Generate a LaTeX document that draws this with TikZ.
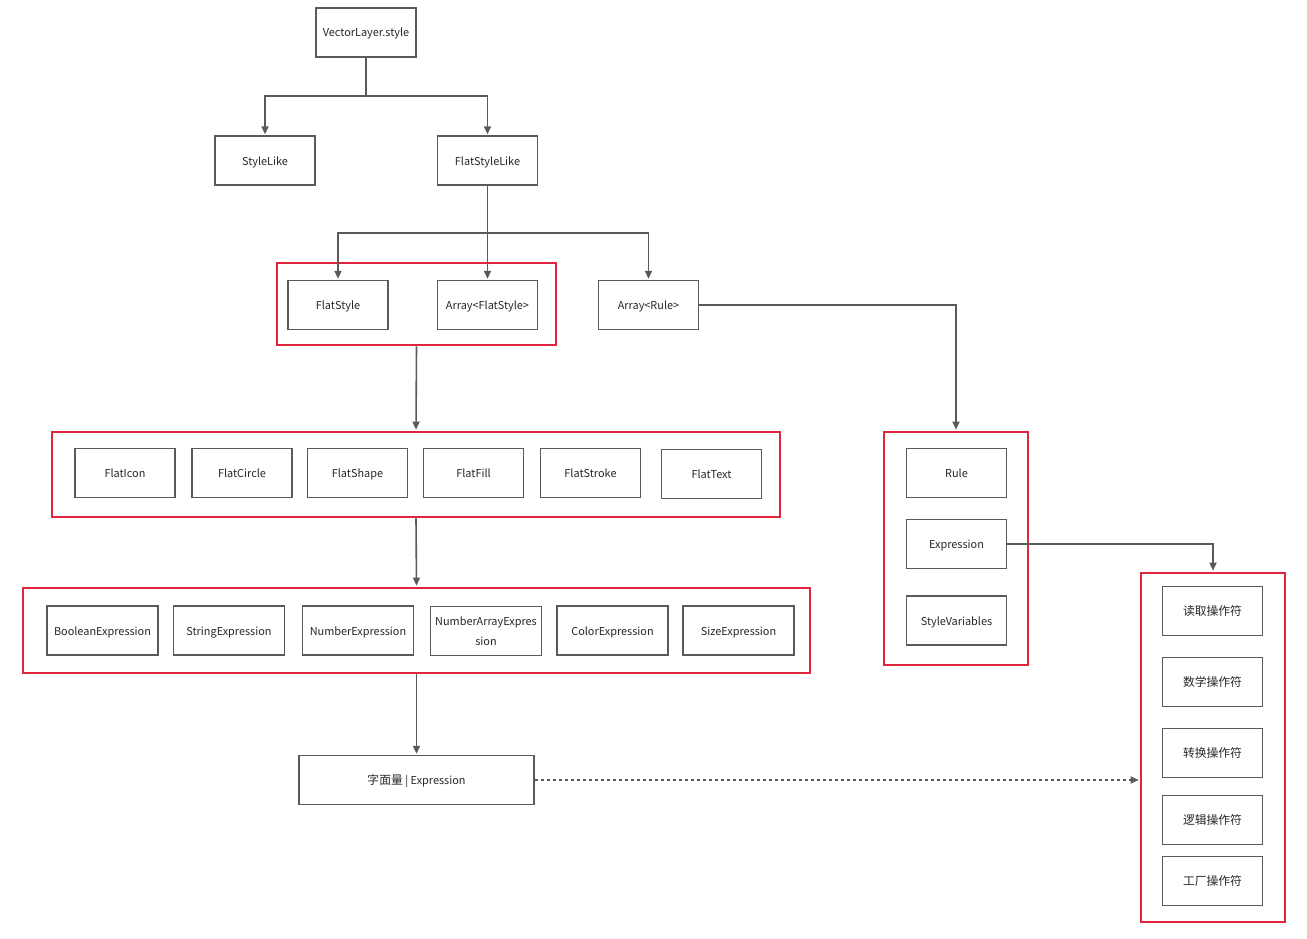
\documentclass[tikz,border=0pt]{standalone}
\usepackage{fontspec}
\setmainfont{Noto Sans CJK SC}
\usetikzlibrary{arrows.meta}
\definecolor{redc}{RGB}{225,37,60}
\definecolor{linec}{RGB}{90,90,90}
\definecolor{txtc}{RGB}{40,40,40}
\begin{document}
\begin{tikzpicture}[x=1pt,y=-1pt,
  box/.style={draw=linec,line width=1.4pt,fill=white,minimum width=100pt,minimum height=49pt,inner sep=1pt,font=\fontsize{10.9}{20}\selectfont,text=txtc,align=center,text height=10pt,text depth=1pt},
  cjk/.style={font=\fontsize{11.8}{20}\selectfont},
  wbox/.style={box,minimum width=111pt},
  grp/.style={draw=redc,line width=2.6pt,inner sep=0pt},
  arr/.style={draw=linec,line width=1.6pt,-{Triangle[length=8pt,width=7pt]},shorten >=1pt},
  dash arr/.style={arr,line width=1.2pt,dash pattern=on 3pt off 3pt}]
\useasboundingbox (0,0) rectangle (1307,939);
% red groups
\node[grp,minimum width=279pt,minimum height=82pt] (g1) at (416.5,304) {};
\node[grp,minimum width=728pt,minimum height=85pt] (g2) at (416,474.5) {};
\node[grp,minimum width=787pt,minimum height=85pt] (g3b) at (416.5,630.5) {};
\node[grp,minimum width=144pt,minimum height=233pt] (g3) at (956,548.5) {};
\node[grp,minimum width=144pt,minimum height=349pt] (g4) at (1213,747.5) {};
% boxes
\node[box] (vls) at (366,32.5) {VectorLayer.style};
\node[box] (sl) at (265,160.5) {StyleLike};
\node[box] (fsl) at (487.5,160.5) {FlatStyleLike};
\node[box] (fs) at (338,305) {FlatStyle};
\node[box] (afs) at (487.5,305) {Array<FlatStyle>};
\node[box] (ar) at (648.5,305) {Array<Rule>};
\node[box] (fi) at (125,473) {FlatIcon};
\node[box] (fc) at (242,473) {FlatCircle};
\node[box] (fsh) at (357.5,473) {FlatShape};
\node[box] (ff) at (473.5,473) {FlatFill};
\node[box] (fst) at (590.5,473) {FlatStroke};
\node[box] (ft) at (711.5,474) {FlatText};
\node[wbox] (be) at (102.5,630.5) {BooleanExpression};
\node[wbox] (se) at (229,630.5) {StringExpression};
\node[wbox] (ne) at (358,630.5) {NumberExpression};
\node[wbox,text height={},text depth={}] (nae) at (486,631) {NumberArrayExpres\\sion};
\node[wbox] (ce) at (612.5,630.5) {ColorExpression};
\node[wbox] (sze) at (738.5,630.5) {SizeExpression};
\node[box,minimum width=235pt] (lit) at (416.5,780) {{\fontsize{11.8}{20}\selectfont 字面量} | Expression};
\node[box] (rule) at (956.5,473) {Rule};
\node[box] (expr) at (956.5,544) {Expression};
\node[box] (sv) at (956.5,620.5) {StyleVariables};
\node[box,cjk] (o1) at (1212.5,611) {读取操作符};
\node[box,cjk] (o2) at (1212.5,682) {数学操作符};
\node[box,cjk] (o3) at (1212.5,753) {转换操作符};
\node[box,cjk] (o4) at (1212.5,820) {逻辑操作符};
\node[box,cjk] (o5) at (1212.5,881) {工厂操作符};
% connectors
\coordinate (b1) at (366,96);
\draw[arr] (vls.south) -- (b1) -| (sl.north);
\draw[arr] (b1) -| (fsl.north);
\coordinate (b2) at (487.5,233);
\draw[line width=1.6pt,draw=linec] (fsl.south) -- (b2);
\draw[arr] (b2) -| (fs.north);
\draw[arr] (b2) -- (afs.north);
\draw[arr] (b2) -| (ar.north);
\draw[arr] (ar.east) -| (g3.north);
\draw[arr] (g1.south) -- (g2.north);
\draw[arr] (g2.south) -- (g3b.north);
\draw[arr] (g3b.south) -- (lit.north);
\draw[arr] (expr.east) -| (g4.north);
\draw[dash arr] (lit.east) -- (g4.west |- lit.east);
\end{tikzpicture}
\end{document}
